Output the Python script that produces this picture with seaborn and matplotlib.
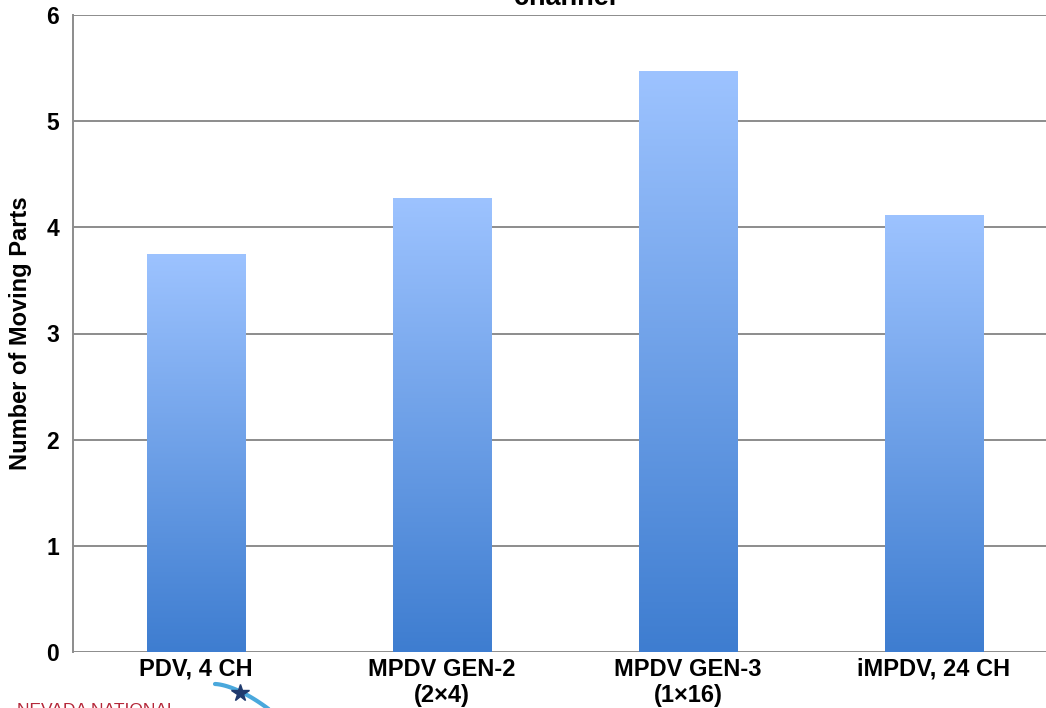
import numpy as np
import pandas as pd
import seaborn as sns
import matplotlib.pyplot as plt
from matplotlib.colors import LinearSegmentedColormap

# data
categories = ["PDV, 4 CH", "MPDV GEN-2\n(2×4)", "MPDV GEN-3\n(1×16)", "iMPDV, 24 CH"]
moving_parts = [3.75, 4.28, 5.47, 4.12]

df = pd.DataFrame({"system": categories, "parts": moving_parts})

sns.set_theme(style="white")
plt.rcParams["font.family"] = ["Liberation Sans", "DejaVu Sans"]
plt.rcParams["text.color"] = "black"
plt.rcParams["xtick.color"] = "black"
plt.rcParams["ytick.color"] = "black"
plt.rcParams["axes.labelcolor"] = "black"

fig = plt.figure(figsize=(10.46, 7.08), dpi=100)
ax = fig.add_axes([73 / 1046, 56 / 708, 984 / 1046, 637 / 708])

ax = sns.barplot(data=df, x="system", y="parts", color="#5b93e0", width=0.4, ax=ax)

# vertical gradient fill inside each bar
grad_cmap = LinearSegmentedColormap.from_list("bar_grad", ["#3e7dd0", "#9dc3ff"])
gradient = np.linspace(0, 1, 256).reshape(-1, 1)
for bar in ax.patches:
    x0, y0 = bar.get_x(), bar.get_y()
    w, h = bar.get_width(), bar.get_height()
    img = ax.imshow(gradient, cmap=grad_cmap, origin="lower", aspect="auto",
                    extent=[x0, x0 + w, y0, y0 + h], zorder=2)
    img.set_clip_path(bar)
    bar.set_facecolor("none")
    bar.set_edgecolor("none")

ax.set_xlim(-0.5, 3.5)
ax.set_ylim(0, 6)
ax.set_yticks(range(0, 7))
ax.yaxis.grid(True, color="#8c8c8c", linewidth=1.4)
ax.set_axisbelow(True)
for side in ["top", "right", "bottom"]:
    ax.spines[side].set_visible(False)
ax.spines["left"].set_color("#8c8c8c")
ax.spines["left"].set_linewidth(1.4)

ax.tick_params(axis="y", length=5, width=1.4, color="#8c8c8c", labelcolor="black",
               labelsize=16.5, pad=5)
ax.tick_params(axis="x", length=0, labelcolor="black", labelsize=17, pad=4)
for lab in ax.get_xticklabels() + ax.get_yticklabels():
    lab.set_fontweight("bold")
    lab.set_linespacing(1.2)

ax.set_xlabel("")
ax.set_ylabel("Number of Moving Parts", fontsize=17, fontweight="bold", labelpad=10)

# cut-off title at the top
fig.text(565 / 1046, 1 - 5 / 708, "channel", ha="center", va="baseline",
         fontsize=19.5, fontweight="bold", color="black")

# logo fragment at bottom-left
fig.text(17 / 1046, -7 / 708, "NEVADA NATIONAL", ha="left", va="baseline",
         fontsize=12.5, color="#b5283a")
t = np.linspace(0, 1, 50)
sx = (215 + 60 * t) / 1046
sy = 1 - (684 + 30 * t ** 1.6) / 708
fig.add_artist(plt.Line2D(sx, sy, color="#4aa8dc", linewidth=3, transform=fig.transFigure))
fig.add_artist(plt.Line2D([240 / 1046], [1 - 693 / 708], marker="*", markersize=13,
                          color="#1f3a6e", transform=fig.transFigure))

fig.savefig("out.png", dpi=100)
